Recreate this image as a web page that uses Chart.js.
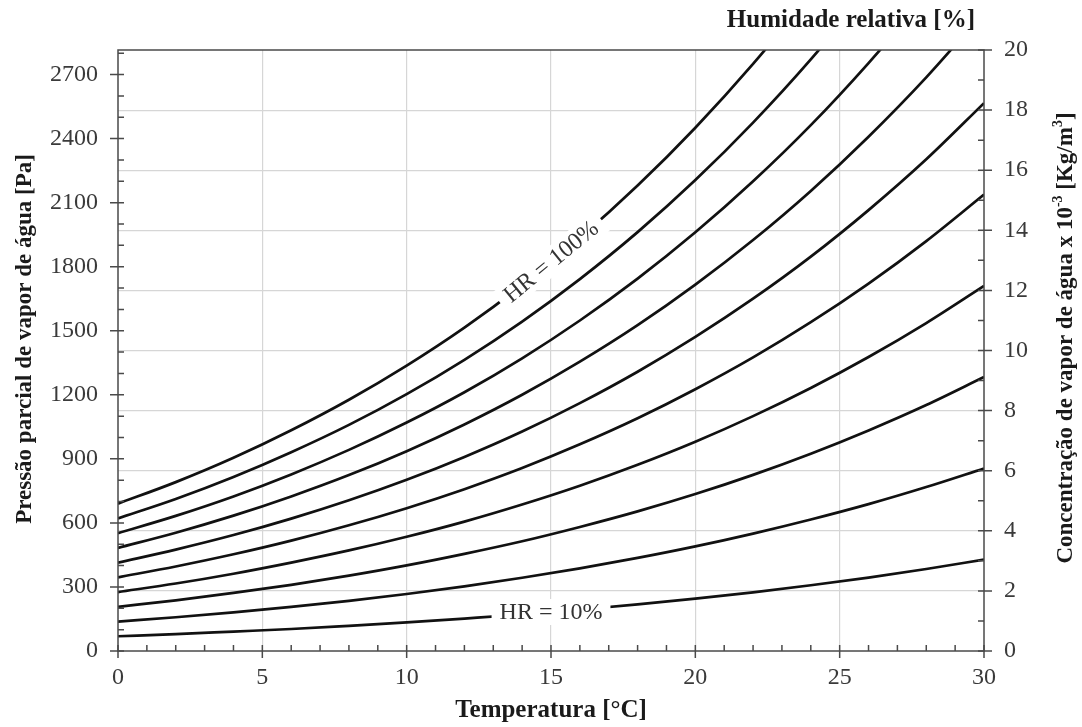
<!DOCTYPE html>
<html lang="pt">
<head>
<meta charset="utf-8">
<title>Pressão parcial de vapor de água</title>
<script src="https://cdn.jsdelivr.net/npm/chart.js@4.4.1/dist/chart.umd.min.js"></script>
<style>
  html, body { margin: 0; padding: 0; background: #fff; }
</style>
</head>
<body>
<canvas id="chart" width="1082" height="727"></canvas>
<script>
// temperatura [°C]
const temperaturas = [0, 2, 4, 6, 8, 10, 12, 14, 16, 18, 20, 22, 24, 26, 28, 30];

// pressão parcial [Pa] para cada humidade relativa
const hr10  = [69, 79, 91, 103, 118, 134, 152, 171, 194, 218, 245, 275, 308, 344, 384, 428];
const hr20  = [138, 158, 181, 207, 235, 267, 303, 343, 387, 436, 490, 550, 616, 688, 768, 855];
const hr30  = [207, 237, 272, 310, 353, 401, 455, 514, 581, 654, 735, 825, 924, 1033, 1152, 1283];
const hr40  = [276, 316, 362, 414, 471, 535, 606, 686, 774, 872, 980, 1100, 1232, 1377, 1536, 1710];
const hr50  = [345, 396, 453, 517, 589, 669, 758, 857, 968, 1090, 1226, 1375, 1540, 1721, 1920, 2138];
const hr60  = [414, 475, 543, 620, 706, 802, 909, 1028, 1161, 1308, 1471, 1650, 1847, 2065, 2303, 2566];
const hr70  = [483, 554, 634, 724, 824, 936, 1061, 1200, 1355, 1526, 1716, 1925, 2155, 2409, 2687, 2993];
const hr80  = [552, 633, 724, 827, 942, 1070, 1212, 1371, 1548, 1744, 1961, 2200, 2463, 2754, 3071, 3421];
const hr90  = [621, 712, 815, 931, 1059, 1203, 1364, 1543, 1742, 1962, 2206, 2475, 2771, 3098, 3455, 3848];
const hr100 = [690, 791, 905, 1034, 1177, 1337, 1515, 1714, 1935, 2180, 2451, 2750, 3079, 3442, 3839, 4276];

const curvas = [hr10, hr20, hr30, hr40, hr50, hr60, hr70, hr80, hr90, hr100];
const nomes = ['HR = 10%', 'HR = 20%', 'HR = 30%', 'HR = 40%', 'HR = 50%',
               'HR = 60%', 'HR = 70%', 'HR = 80%', 'HR = 90%', 'HR = 100%'];

// marcas dos eixos
const ticksTemp = [0, 5, 10, 15, 20, 25, 30];
const ticksPa = [0, 300, 600, 900, 1200, 1500, 1800, 2100, 2400, 2700];
const ticksConc = [0, 2, 4, 6, 8, 10, 12, 14, 16, 18, 20];

const FONTE = "'Liberation Serif', 'Times New Roman', serif";
const CINZA_EIXO = '#4a4a4a';
const CINZA_GRELHA = '#d6d6d6';

const setTicks = lista => scale => { scale.ticks = lista.map(v => ({ value: v })); };
const semVirgula = v => String(v);

const decoracao = {
  id: 'decoracao',
  afterDatasetsDraw(chart) {
    const { ctx } = chart;
    // rótulos das curvas 100% e 10%
    const rotulos = [
      { serie: 9, i0: 7, i1: 8, rodar: true },
      { serie: 0, i0: 7, i1: 8, rodar: false }
    ];
    ctx.save();
    ctx.font = '24px ' + FONTE;
    rotulos.forEach(r => {
      const pts = chart.getDatasetMeta(r.serie).data;
      const p0 = pts[r.i0], p1 = pts[r.i1];
      const cx = (p0.x + p1.x) / 2, cy = (p0.y + p1.y) / 2;
      const ang = r.rodar ? Math.atan2(p1.y - p0.y, p1.x - p0.x) : 0;
      const txt = nomes[r.serie];
      const w = ctx.measureText(txt).width;
      ctx.save();
      ctx.translate(cx, cy);
      ctx.rotate(ang);
      ctx.fillStyle = '#fff';
      ctx.fillRect(-w / 2 - 8, -13, w + 16, 26);
      ctx.fillStyle = '#333';
      ctx.textAlign = 'center';
      ctx.textBaseline = 'middle';
      ctx.fillText(txt, 0, 1);
      ctx.restore();
    });
    ctx.restore();
  },
  afterDraw(chart) {
    const { ctx, chartArea: a, scales } = chart;
    ctx.save();
    ctx.strokeStyle = CINZA_EIXO;
    ctx.lineWidth = 1.5;
    ctx.strokeRect(a.left, a.top, a.right - a.left, a.bottom - a.top);

    ctx.beginPath();
    // eixo x: maiores a cada 5, menores a cada 1
    for (let t = 0; t <= 30; t++) {
      const px = scales.x.getPixelForValue(t);
      const maior = t % 5 === 0;
      ctx.moveTo(px, a.bottom + (maior ? 7 : 0));
      ctx.lineTo(px, a.bottom - 6);
    }
    // eixo esquerdo: maiores a cada 300, menores a cada 100
    for (let v = 0; v <= 2800; v += 100) {
      const py = scales.y.getPixelForValue(v);
      const maior = v % 300 === 0;
      ctx.moveTo(a.left - (maior ? 8 : 0), py);
      ctx.lineTo(a.left + 6, py);
    }
    // eixo direito: maiores a cada 2, menores a cada 1
    for (let v = 0; v <= 20; v++) {
      const py = scales.y2.getPixelForValue(v);
      const maior = v % 2 === 0;
      ctx.moveTo(a.right + (maior ? 8 : 0), py);
      ctx.lineTo(a.right - 6, py);
    }
    ctx.stroke();

    // títulos
    ctx.fillStyle = '#1a1a1a';
    ctx.font = 'bold 25px ' + FONTE;
    ctx.textBaseline = 'middle';
    ctx.textAlign = 'right';
    ctx.fillText('Humidade relativa [%]', a.right - 9, 21);

    ctx.textAlign = 'center';
    ctx.fillText('Temperatura [°C]', (a.left + a.right) / 2, 711);

    ctx.font = 'bold 23px ' + FONTE;
    ctx.save();
    ctx.translate(25, 339);
    ctx.rotate(-Math.PI / 2);
    ctx.fillText('Pressão parcial de vapor de água [Pa]', 0, 0);
    ctx.restore();

    // título direito com expoentes
    const partes = [
      { t: 'Concentração de vapor de água x 10', sup: false },
      { t: '-3', sup: true },
      { t: ' [Kg/m', sup: false },
      { t: '3', sup: true },
      { t: ']', sup: false }
    ];
    const fNormal = 'bold 23px ' + FONTE, fSup = 'bold 14px ' + FONTE;
    let total = 0;
    partes.forEach(p => { ctx.font = p.sup ? fSup : fNormal; p.w = ctx.measureText(p.t).width; total += p.w; });
    ctx.save();
    ctx.translate(1066, 338);
    ctx.rotate(-Math.PI / 2);
    ctx.textAlign = 'left';
    let x = -total / 2;
    partes.forEach(p => {
      ctx.font = p.sup ? fSup : fNormal;
      ctx.fillText(p.t, x, p.sup ? -8 : 0);
      x += p.w;
    });
    ctx.restore();
    ctx.restore();
  }
};

const datasets = curvas.map((serie, k) => ({
  label: nomes[k],
  data: temperaturas.map((t, i) => ({ x: t, y: serie[i] })),
  borderColor: '#111',
  borderWidth: 2.7,
  pointRadius: 0,
  fill: false,
  cubicInterpolationMode: 'monotone',
  clip: 0,
  yAxisID: 'y'
}));

const fonteTicks = { family: FONTE, size: 24 };

new Chart(document.getElementById('chart'), {
  type: 'line',
  data: { datasets },
  options: {
    responsive: false,
    animation: false,
    devicePixelRatio: 1,
    layout: { padding: { top: 50, left: 0, right: 0, bottom: 0 } },
    plugins: {
      legend: { display: false },
      tooltip: { enabled: false },
      title: { display: false }
    },
    scales: {
      x: {
        type: 'linear',
        min: 0,
        max: 30,
        afterBuildTicks: setTicks(ticksTemp),
        afterFit: s => { s.height = 76; },
        grid: {
          drawTicks: false,
          lineWidth: 1.2,
          color: c => (c.tick && (c.tick.value === 0 || c.tick.value === 30)) ? 'rgba(0,0,0,0)' : CINZA_GRELHA
        },
        border: { display: false },
        ticks: { padding: 12, color: '#3a3a3a', font: fonteTicks, maxRotation: 0, callback: semVirgula }
      },
      y: {
        position: 'left',
        min: 0,
        max: 2815,
        afterBuildTicks: setTicks(ticksPa),
        afterFit: s => { s.width = 118; },
        grid: { display: false, drawTicks: false },
        border: { display: false },
        ticks: { padding: 20, color: '#3a3a3a', font: fonteTicks, callback: semVirgula }
      },
      y2: {
        position: 'right',
        min: 0,
        max: 20,
        afterBuildTicks: setTicks(ticksConc),
        afterFit: s => { s.width = 98; },
        grid: {
          drawTicks: false,
          lineWidth: 1.2,
          color: c => (c.tick && (c.tick.value === 0 || c.tick.value === 20)) ? 'rgba(0,0,0,0)' : CINZA_GRELHA
        },
        border: { display: false },
        ticks: { padding: 20, color: '#3a3a3a', font: fonteTicks, callback: semVirgula }
      }
    }
  },
  plugins: [decoracao]
});
</script>
</body>
</html>
